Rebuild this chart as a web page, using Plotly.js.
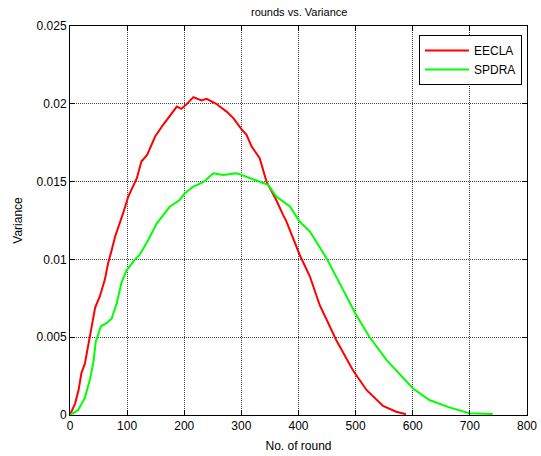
<!DOCTYPE html>
<html>
<head>
<meta charset="utf-8">
<script src="https://cdn.plot.ly/plotly-3.0.1.min.js"></script>
<style>html,body{margin:0;padding:0;background:#fff;}#chart{width:541px;height:456px;}</style>
</head>
<body>
<div id="chart"></div>
<script>
const eeclaX = [0, 9, 15, 20, 26, 32, 38, 44, 52, 61, 67, 73, 79, 93, 102, 117, 125, 135, 149, 163, 187, 195, 203, 216, 230, 239, 256, 274, 286, 300, 309, 318, 332, 344, 361, 373, 379, 402, 420, 437, 466, 495, 519, 548, 571, 588];
const eeclaY = [0, 0.00075, 0.0016, 0.0027, 0.0033, 0.0046, 0.0057, 0.0069, 0.0076, 0.0087, 0.0098, 0.0106, 0.01147, 0.01297, 0.01404, 0.01522, 0.01629, 0.01672, 0.0179, 0.01865, 0.01982, 0.01968, 0.01993, 0.02043, 0.02021, 0.02032, 0.02, 0.0195, 0.01908, 0.01837, 0.018, 0.01725, 0.01651, 0.015, 0.01382, 0.01286, 0.01243, 0.0103, 0.0089, 0.00707, 0.00482, 0.00289, 0.00161, 0.00058, 0.00021, 0.00005];
const spdraX = [0, 14, 26, 35, 41, 45, 54, 64, 73, 82, 90, 99, 114, 122, 137, 152, 175, 192, 201, 216, 233, 251, 268, 291, 300, 315, 332, 347, 361, 385, 402, 420, 449, 472, 501, 524, 554, 600, 629, 664, 699, 740];
const spdraY = [0, 0.0003, 0.0011, 0.0023, 0.0034, 0.0047, 0.0057, 0.0059, 0.0062, 0.0072, 0.0085, 0.0093, 0.01, 0.0103, 0.01125, 0.01232, 0.0134, 0.01382, 0.01425, 0.01468, 0.01496, 0.01554, 0.01543, 0.01554, 0.01543, 0.01522, 0.015, 0.01479, 0.01404, 0.0134, 0.01243, 0.01179, 0.01008, 0.00847, 0.00643, 0.00503, 0.00354, 0.00172, 0.00096, 0.00049, 0.00011, 0.00006];
const xTicks = [0, 100, 200, 300, 400, 500, 600, 700, 800];
const yTicks = [0, 0.005, 0.01, 0.015, 0.02, 0.025];
const yTickText = ["0", "0.005", "0.01", "0.015", "0.02", "0.025"];

const font = {family: "Liberation Sans, Arial, sans-serif", size: 12, color: "#000"};
const axisCommon = {
  showline: true, linecolor: "#000", linewidth: 1, mirror: "ticks",
  ticks: "inside", ticklen: 5, tickcolor: "#000",
  showgrid: true, gridcolor: "#444", griddash: "1px,1px", gridwidth: 1,
  zeroline: false, tickfont: font
};
const data = [
  {x: eeclaX, y: eeclaY, type: "scatter", mode: "lines", name: "EECLA", line: {color: "#ff0000", width: 2}},
  {x: spdraX, y: spdraY, type: "scatter", mode: "lines", name: "SPDRA", line: {color: "#00ff00", width: 2}}
];
const layout = {
  width: 541, height: 456,
  margin: {l: 70, r: 14, t: 26, b: 41},
  paper_bgcolor: "#fff", plot_bgcolor: "#fff",
  font: font,
  title: {text: "rounds vs. Variance", font: {family: font.family, size: 11, color: "#000"}, x: 0.553, xanchor: "center", y: 0.982, yanchor: "top"},
  xaxis: Object.assign({}, axisCommon, {range: [0, 800], tickvals: xTicks, ticktext: xTicks.map(String),
    title: {text: "No. of round", font: font, standoff: 9}}),
  yaxis: Object.assign({}, axisCommon, {range: [0, 0.025], tickvals: yTicks, ticktext: yTickText,
    title: {text: "Variance", font: font, standoff: 11}}),
  legend: {x: 0.989, xanchor: "right", y: 0.977, yanchor: "top", bgcolor: "#fff", bordercolor: "#000", borderwidth: 1,
    font: font, tracegroupgap: 0, itemwidth: 44},
  showlegend: true
};
Plotly.newPlot("chart", data, layout, {displayModeBar: false, staticPlot: true});
</script>
</body>
</html>
